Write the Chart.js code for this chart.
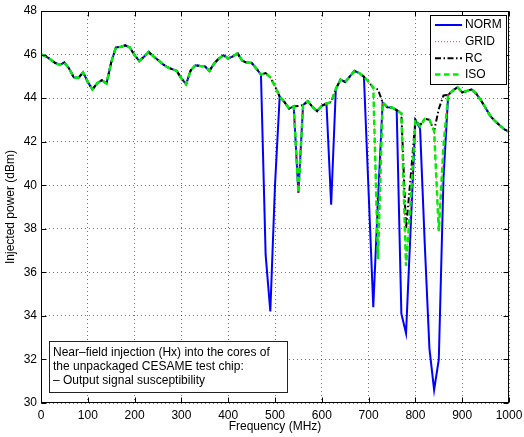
<!DOCTYPE html>
<html><head><meta charset="utf-8">
<script src="https://cdn.jsdelivr.net/npm/chart.js@4/dist/chart.umd.min.js"></script>
<style>html,body{margin:0;padding:0;background:#fff;}canvas{display:block;}</style>
</head><body>
<canvas id="c" width="524" height="437"></canvas>
<script>
const freqMHz = [0,10,20,30,40,50,60,70,80,90,100,110,120,130,140,150,160,170,180,190,200,210,220,230,240,250,260,270,280,290,300,310,320,330,340,350,360,370,380,390,400,410,420,430,440,450,460,470,480,490,500,510,520,530,540,550,560,570,580,590,600,610,620,630,640,650,660,670,680,690,700,710,720,730,740,750,760,770,780,790,800,810,820,830,840,850,860,870,880,890,900,910,920,930,940,950,960,970,980,990,1000];

const norm = [46.0,45.93,45.78,45.62,45.52,45.63,45.36,44.95,44.93,45.18,44.74,44.4,44.68,44.82,44.67,45.64,46.33,46.35,46.42,46.32,45.97,45.7,45.9,46.12,45.92,45.75,45.56,45.42,45.33,45.25,44.9,44.64,45.28,45.51,45.47,45.46,45.25,45.59,45.82,45.97,45.82,45.92,46.05,45.72,45.62,45.62,45.36,45.08,
  36.8,34.2,40.0,44.07,43.83,43.52,43.62,39.65,43.68,43.86,43.6,43.4,43.65,43.75,39.1,44.42,44.85,44.74,45.0,45.25,45.15,44.98,39.7,34.4,39.3,43.8,43.58,43.57,43.45,34.1,33.2,38.1,43.0,42.6,37.3,32.5,30.6,32.0,40.3,44.15,44.35,44.5,44.26,44.33,44.4,44.2,43.9,43.55,43.18,42.95,42.75,42.57,42.45];

const gridSeries = [46.0,45.93,45.78,45.62,45.52,45.63,45.36,44.95,44.93,45.18,44.74,44.4,44.68,44.82,44.67,45.64,46.33,46.35,46.42,46.32,45.97,45.7,45.9,46.12,45.92,45.75,45.56,45.42,45.33,45.25,44.9,44.64,45.28,45.51,45.47,45.46,45.25,45.59,45.82,45.97,45.82,45.92,46.05,45.72,45.62,45.62,45.36,45.08,
  45.15,44.92,44.55,44.07,43.83,43.52,43.62,39.65,43.68,43.86,43.6,43.4,43.65,43.75,43.82,44.42,44.85,44.74,45.0,45.25,45.15,44.98,44.75,44.5,36.6,43.8,43.58,43.57,43.45,43.3,36.3,39.3,43.0,42.7,43.05,43.0,42.5,37.9,41.8,44.15,44.35,44.5,44.26,44.33,44.4,44.2,43.9,43.55,43.18,42.95,42.75,42.57,42.45];

const rc = [46.0,45.93,45.78,45.62,45.52,45.63,45.36,44.95,44.93,45.18,44.74,44.4,44.68,44.82,44.67,45.64,46.33,46.35,46.42,46.32,45.97,45.7,45.9,46.12,45.92,45.75,45.56,45.42,45.33,45.25,44.9,44.64,45.28,45.51,45.47,45.46,45.25,45.59,45.82,45.97,45.82,45.92,46.05,45.72,45.62,45.62,45.36,45.08,
  45.15,44.95,44.55,44.07,43.83,43.52,43.62,43.64,43.68,43.86,43.6,43.4,43.65,43.75,43.82,44.42,44.85,44.74,45.0,45.25,45.15,44.98,44.75,44.47,44.4,43.8,43.58,43.57,43.45,43.3,38.0,40.4,43.0,42.75,43.05,43.0,42.5,43.5,44.12,44.15,44.35,44.5,44.26,44.33,44.4,44.2,43.9,43.55,43.18,42.95,42.75,42.57,42.45];

const iso = [46.0,45.93,45.78,45.62,45.52,45.63,45.36,44.95,44.93,45.18,44.74,44.4,44.68,44.82,44.67,45.64,46.33,46.35,46.42,46.32,45.97,45.7,45.9,46.12,45.92,45.75,45.56,45.42,45.33,45.25,44.9,44.64,45.28,45.51,45.47,45.46,45.25,45.59,45.82,45.97,45.82,45.92,46.05,45.72,45.62,45.62,45.36,45.08,
  45.15,44.95,44.55,44.07,43.83,43.52,43.62,39.65,43.68,43.86,43.6,43.4,43.65,43.75,43.82,44.42,44.85,44.74,45.0,45.25,45.15,44.98,44.75,44.5,36.6,43.8,43.58,43.57,43.45,43.3,36.3,39.3,43.0,42.7,43.05,43.0,42.5,37.9,41.8,44.15,44.35,44.5,44.26,44.33,44.4,44.2,43.9,43.55,43.18,42.95,42.75,42.57,42.45];

const xTickValues = [0,100,200,300,400,500,600,700,800,900,1000];
const yTickValues = [30,32,34,36,38,40,42,44,46,48];
const seriesNames = ['NORM','GRID','RC','ISO'];
const xTitle = 'Frequency (MHz)';
const yTitle = 'Injected power (dBm)';
const noteLines = ['Near\u2013field injection (Hx) into the cores of','the unpackaged CESAME test chip:','\u2013 Output signal susceptibility'];

const FONT = "'Liberation Sans', Arial, Helvetica, sans-serif";
Chart.defaults.font.family = FONT;
Chart.defaults.font.size = 12;
Chart.defaults.color = '#000';

const styles = [
  {color:'#0000ff', width:2, dash:[]},
  {color:'#ff3030', width:1, dash:[1,2]},
  {color:'#000000', width:2, dash:[6,2.5,1.5,2.5]},
  {color:'#00ee00', width:2.5, dash:[5.5,3.5]}
];
const seriesData = [norm, gridSeries, rc, iso];

const datasets = seriesNames.map((name, k) => ({
  label: name,
  data: freqMHz.map((f, i) => ({x: f, y: seriesData[k][i]})),
  borderColor: styles[k].color,
  borderWidth: styles[k].width,
  borderDash: styles[k].dash,
  pointRadius: 0,
  tension: 0,
  fill: false,
  order: 4 - k
}));

const framePlugin = {
  id: 'frame',
  afterDatasetsDraw(chart) {
    const {ctx, chartArea, scales} = chart;
    const L = Math.round(chartArea.left) + 0.5, R = Math.round(chartArea.right) - 0.5;
    const T = Math.round(chartArea.top) + 0.5, B = Math.round(chartArea.bottom) - 0.5;
    ctx.save();
    ctx.strokeStyle = '#000'; ctx.lineWidth = 1; ctx.setLineDash([]);
    ctx.strokeRect(L, T, R - L, B - T);
    ctx.beginPath();
    xTickValues.forEach(v => {
      const px = Math.round(scales.x.getPixelForValue(v)) + 0.5;
      ctx.moveTo(px, B); ctx.lineTo(px, B - 5);
      ctx.moveTo(px, T); ctx.lineTo(px, T + 5);
    });
    yTickValues.forEach(v => {
      const py = Math.round(scales.y.getPixelForValue(v)) + 0.5;
      ctx.moveTo(L, py); ctx.lineTo(L + 5, py);
      ctx.moveTo(R, py); ctx.lineTo(R - 5, py);
    });
    ctx.stroke();
    ctx.restore();
  },
  afterDraw(chart) {
    const {ctx} = chart;
    ctx.save();
    ctx.fillStyle = '#fff'; ctx.strokeStyle = '#000'; ctx.lineWidth = 1;
    ctx.fillRect(430.5, 15.5, 76, 69); ctx.strokeRect(430.5, 15.5, 76, 69);
    ctx.font = '12px ' + FONT; ctx.textBaseline = 'middle'; ctx.textAlign = 'left';
    const rows = [25, 41.7, 58.3, 74.5];
    seriesNames.forEach((name, k) => {
      const s = styles[k];
      ctx.beginPath(); ctx.setLineDash(s.dash); ctx.lineWidth = s.width; ctx.strokeStyle = s.color;
      ctx.moveTo(435, rows[k]); ctx.lineTo(462, rows[k]); ctx.stroke();
      ctx.setLineDash([]); ctx.fillStyle = '#000';
      ctx.fillText(name, 465, rows[k]);
    });
    ctx.fillStyle = '#fff'; ctx.strokeStyle = '#222'; ctx.lineWidth = 1;
    ctx.fillRect(49.5, 341.5, 238, 51); ctx.strokeRect(49.5, 341.5, 238, 51);
    ctx.fillStyle = '#000';
    const ny = [352.5, 366.7, 380.7];
    noteLines.forEach((t, i) => ctx.fillText(t, 53, ny[i]));
    ctx.restore();
  }
};

new Chart(document.getElementById('c'), {
  type: 'line',
  data: {datasets},
  options: {
    responsive: false,
    animation: false,
    devicePixelRatio: 1,
    layout: {padding: {left: 0, right: 15, top: 11, bottom: 0}},
    plugins: {legend: {display: false}, tooltip: {enabled: false}},
    scales: {
      x: {
        type: 'linear', min: 0, max: 1000,
        afterBuildTicks: s => { s.ticks = xTickValues.map(v => ({value: v})); },
        afterFit: s => { s.height = 34; s.paddingLeft = 0; s.paddingRight = 0; },
        ticks: {autoSkip: false, maxRotation: 0, padding: 5, font: {size: 12}, callback: v => String(v)},
        grid: {color: 'rgba(0,0,0,0.55)', lineWidth: 1, drawTicks: false},
        border: {display: false, dash: [1, 3]},
        title: {display: true, text: xTitle, font: {size: 12}, padding: {top: 0, bottom: 3}}
      },
      y: {
        type: 'linear', min: 30, max: 48,
        afterBuildTicks: s => { s.ticks = yTickValues.map(v => ({value: v})); },
        afterFit: s => { s.width = 41; s.paddingTop = 0; s.paddingBottom = 0; },
        ticks: {autoSkip: false, padding: 4, font: {size: 12}, callback: v => String(v)},
        grid: {color: 'rgba(0,0,0,0.55)', lineWidth: 1, drawTicks: false},
        border: {display: false, dash: [1, 3]},
        title: {display: true, text: yTitle, font: {size: 12}, padding: {top: 3, bottom: 0}}
      }
    }
  },
  plugins: [framePlugin]
});
</script>
</body></html>
